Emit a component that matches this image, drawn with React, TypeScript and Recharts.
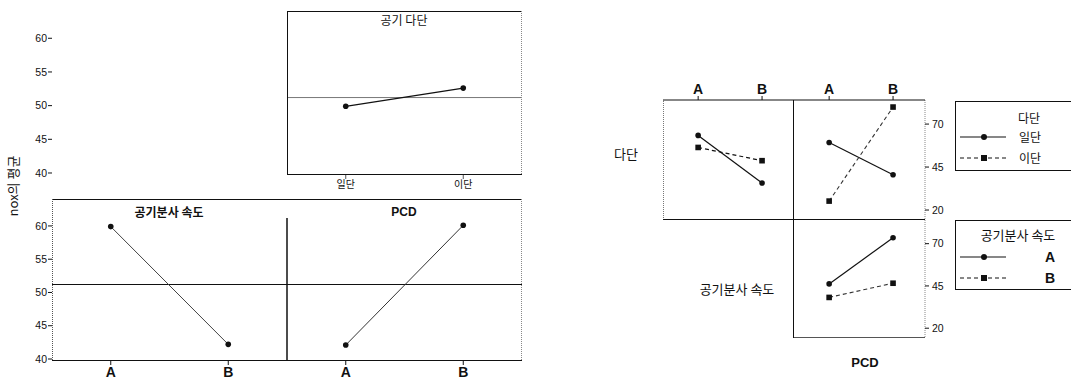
import React from 'react'
import { LineChart, Line, XAxis, YAxis, ReferenceLine } from 'recharts'

// main effects plot: nox의 평균
const dadanLevels = ['일단', '이단']
const abLevels = ['A', 'B']
const dadanMeans = [49.9, 52.6]
const airSpeedMeans = [59.9, 42.2]
const pcdMeans = [42.1, 60.1]
const grandMean = 51.2
const mainTicks = [40, 45, 50, 55, 60]

// interaction plot
const interTicks = [20, 45, 70]
const ilByAir = [63.4, 35.7]
const iByAir = [56.4, 48.7]
const ilByPcd = [59.3, 40.5]
const iByPcd = [25.2, 79.9]
const aByPcd = [46.2, 73.5]
const bByPcd = [38.2, 46.6]

const NUM = '"Liberation Sans", Arial, sans-serif'
const KR = '"Noto Sans CJK KR", "Noto Sans", sans-serif'
const INK = '#111'

const mainPts = (vals: number[], panel: number) =>
  vals.map((y, i) => ({ x: panel + 0.25 + 0.5 * i, y }))
const interPts = (vals: number[]) => vals.map((y, i) => ({ x: i + 1, y }))

const circleDot = (p: any) => (
  <circle key={`c${p.index}`} cx={p.cx} cy={p.cy} r={2.8} fill={INK} />
)
const squareDot = (p: any) => (
  <rect key={`s${p.index}`} x={p.cx - 2.8} y={p.cy - 2.8} width={5.6} height={5.6} fill={INK} />
)

const abs = (left: number, top: number): React.CSSProperties => ({ position: 'absolute', left, top })

function Txt(props: {
  x: number
  y: number
  size?: number
  bold?: boolean
  font?: string
  rotate?: boolean
  children: React.ReactNode
}) {
  const { x, y, size = 12, bold, font = KR, rotate, children } = props
  return (
    <div
      style={{
        position: 'absolute',
        left: x,
        top: y,
        transform: `translate(-50%, -50%)${rotate ? ' rotate(-90deg)' : ''}`,
        fontSize: size,
        fontWeight: bold ? 700 : 400,
        fontFamily: font,
        lineHeight: 1,
        whiteSpace: 'nowrap',
        color: INK,
      }}
    >
      {children}
    </div>
  )
}

function HLine({ x, y, w, c = INK, t = 1, dotted = false }: any) {
  return <div style={{ ...abs(x, y), width: w, height: 0, borderTop: `${t}px ${dotted ? 'dotted' : 'solid'} ${c}` }} />
}
function VLine({ x, y, h, c = INK, t = 1, dotted = false }: any) {
  return <div style={{ ...abs(x, y), width: 0, height: h, borderLeft: `${t}px ${dotted ? 'dotted' : 'solid'} ${c}` }} />
}

function Sample({ dashed, square }: { dashed?: boolean; square?: boolean }) {
  return (
    <svg width={48} height={10} style={{ position: 'absolute', left: 0, top: -5 }}>
      <line x1={0} y1={5} x2={46} y2={5} stroke={INK} strokeWidth={1.2} strokeDasharray={dashed ? '4 3' : undefined} />
      {square ? <rect x={21} y={2} width={6} height={6} fill={INK} /> : <circle cx={24} cy={5} r={3} fill={INK} />}
    </svg>
  )
}

export default function App() {
  const yMain: [number, number] = [39.85, 64.05]
  const yInter: [number, number] = [14.2, 84]
  const numTick = { fontSize: 10.5, fill: INK, fontFamily: NUM }

  return (
    <div
      style={{
        position: 'absolute',
        left: 0,
        top: 0,
        width: 1071,
        height: 387,
        background: '#fff',
        overflow: 'hidden',
        fontFamily: KR,
      }}
    >
      {/* ---------- main effects, top row ---------- */}
      <div style={abs(0, 0)}>
        <LineChart width={522} height={204} margin={{ top: 11, right: 0, bottom: 0, left: 0 }}>
          <YAxis
            width={52}
            domain={yMain}
            ticks={mainTicks}
            interval={0}
            tickSize={4}
            tickMargin={1}
            axisLine={false}
            tickLine={{ stroke: INK }}
            tick={numTick}
          />
          <XAxis
            type="number"
            dataKey="x"
            domain={[0, 2]}
            ticks={dadanLevels.map((_, i) => 1.25 + 0.5 * i)}
            interval={0}
            height={30}
            tickSize={5}
            tickMargin={2}
            axisLine={false}
            tickLine={{ stroke: '#555' }}
            tick={{ fontSize: 10, fill: INK, fontFamily: KR }}
            tickFormatter={(v: number) => dadanLevels[Math.round((v - 1.25) / 0.5)]}
          />
          <ReferenceLine
            segment={[{ x: 1, y: grandMean }, { x: 2, y: grandMean }]}
            stroke="#777"
            strokeWidth={1}
          />
          <Line
            data={mainPts(dadanMeans, 1)}
            dataKey="y"
            stroke={INK}
            strokeWidth={1.2}
            dot={circleDot}
            isAnimationActive={false}
          />
        </LineChart>
      </div>
      <HLine x={287} y={11} w={235} t={1.2} />
      <HLine x={287} y={174} w={235} t={1.2} />
      <VLine x={287} y={11} h={163} t={1.2} />
      <VLine x={521} y={11} h={163} c="#888" dotted />
      <Txt x={404} y={20} size={12}>공기 다단</Txt>

      {/* ---------- main effects, bottom row ---------- */}
      <div style={abs(0, 190)}>
        <LineChart width={522} height={197} margin={{ top: 9, right: 0, bottom: 0, left: 0 }}>
          <YAxis
            width={52}
            domain={yMain}
            ticks={mainTicks}
            interval={0}
            tickSize={4}
            tickMargin={1}
            axisLine={false}
            tickLine={{ stroke: INK }}
            tick={numTick}
          />
          <XAxis
            type="number"
            dataKey="x"
            domain={[0, 2]}
            ticks={[0, 1].flatMap((p) => abLevels.map((_, i) => p + 0.25 + 0.5 * i))}
            interval={0}
            height={27}
            tickSize={5}
            tickMargin={2}
            axisLine={false}
            tickLine={{ stroke: INK }}
            tick={{ fontSize: 14, fill: INK, fontFamily: NUM, fontWeight: 700 }}
            tickFormatter={(v: number) => abLevels[Math.round((v - 0.25) / 0.5) % 2]}
          />
          <ReferenceLine y={grandMean} stroke={INK} strokeWidth={1.2} />
          <ReferenceLine
            segment={[{ x: 1, y: 61.2 }, { x: 1, y: yMain[0] }]}
            stroke={INK}
            strokeWidth={1.5}
          />
          <Line
            data={mainPts(airSpeedMeans, 0)}
            dataKey="y"
            stroke="#444"
            strokeWidth={1}
            dot={circleDot}
            isAnimationActive={false}
          />
          <Line
            data={mainPts(pcdMeans, 1)}
            dataKey="y"
            stroke="#333"
            strokeWidth={1}
            dot={circleDot}
            isAnimationActive={false}
          />
        </LineChart>
      </div>
      <HLine x={52} y={199} w={470} t={1.2} />
      <HLine x={52} y={360} w={470} t={1.2} />
      <VLine x={52} y={199} h={161} c="#555" dotted />
      <VLine x={521} y={199} h={161} c="#888" dotted />
      <Txt x={169} y={212} size={12} bold>공기분사 속도</Txt>
      <Txt x={404} y={212} size={12} bold font={NUM}>PCD</Txt>
      <Txt x={12} y={186} size={13} rotate>nox의 평균</Txt>

      {/* ---------- interaction: 공기분사 속도 x 다단 ---------- */}
      <div style={abs(663, 78)}>
        <LineChart width={131} height={142} margin={{ top: 0, right: 0, bottom: 0, left: 0 }}>
          <YAxis hide domain={yInter} />
          <XAxis
            type="number"
            dataKey="x"
            orientation="top"
            domain={[0.45, 2.5]}
            ticks={[1, 2]}
            interval={0}
            height={22}
            tickSize={4}
            tickMargin={2}
            axisLine={{ stroke: INK, strokeWidth: 1.2 }}
            tickLine={{ stroke: INK }}
            tick={{ fontSize: 14, fill: INK, fontFamily: NUM, fontWeight: 700 }}
            tickFormatter={(v: number) => abLevels[v - 1]}
          />
          <Line data={interPts(ilByAir)} dataKey="y" stroke={INK} strokeWidth={1.2} dot={circleDot} isAnimationActive={false} />
          <Line data={interPts(iByAir)} dataKey="y" stroke={INK} strokeWidth={1.2} strokeDasharray="4 3" dot={squareDot} isAnimationActive={false} />
        </LineChart>
      </div>

      {/* ---------- interaction: PCD x 다단 ---------- */}
      <div style={abs(794, 78)}>
        <LineChart width={161} height={142} margin={{ top: 0, right: 0, bottom: 0, left: 0 }}>
          <YAxis
            orientation="right"
            width={30}
            domain={yInter}
            ticks={interTicks}
            interval={0}
            tickSize={4}
            tickMargin={3}
            axisLine={{ stroke: '#888', strokeDasharray: '1 1' }}
            tickLine={{ stroke: INK }}
            tick={numTick}
          />
          <XAxis
            type="number"
            dataKey="x"
            orientation="top"
            domain={[0.45, 2.5]}
            ticks={[1, 2]}
            interval={0}
            height={22}
            tickSize={4}
            tickMargin={2}
            axisLine={{ stroke: INK, strokeWidth: 1.2 }}
            tickLine={{ stroke: INK }}
            tick={{ fontSize: 14, fill: INK, fontFamily: NUM, fontWeight: 700 }}
            tickFormatter={(v: number) => abLevels[v - 1]}
          />
          <Line data={interPts(ilByPcd)} dataKey="y" stroke={INK} strokeWidth={1.2} dot={circleDot} isAnimationActive={false} />
          <Line data={interPts(iByPcd)} dataKey="y" stroke="#333" strokeWidth={1.1} strokeDasharray="4 3" dot={squareDot} isAnimationActive={false} />
        </LineChart>
      </div>

      {/* ---------- interaction: PCD x 공기분사 속도 ---------- */}
      <div style={abs(794, 220)}>
        <LineChart width={161} height={118} margin={{ top: 0, right: 0, bottom: 0, left: 0 }}>
          <XAxis type="number" dataKey="x" hide domain={[0.45, 2.5]} />
          <YAxis
            orientation="right"
            width={30}
            domain={yInter}
            ticks={interTicks}
            interval={0}
            tickSize={4}
            tickMargin={3}
            axisLine={{ stroke: '#888', strokeDasharray: '1 1' }}
            tickLine={{ stroke: INK }}
            tick={numTick}
          />
          <Line data={interPts(aByPcd)} dataKey="y" stroke={INK} strokeWidth={1.2} dot={circleDot} isAnimationActive={false} />
          <Line data={interPts(bByPcd)} dataKey="y" stroke="#333" strokeWidth={1.1} strokeDasharray="4 3" dot={squareDot} isAnimationActive={false} />
        </LineChart>
      </div>

      {/* interaction frame */}
      <VLine x={663} y={100} h={120} c="#777" dotted />
      <HLine x={663} y={219} w={262} t={1.5} />
      <VLine x={793} y={100} h={238} t={1.5} />
      <HLine x={794} y={337} w={131} c="#555" />
      <Txt x={626} y={153} size={13}>다단</Txt>
      <Txt x={737} y={288} size={13}>공기분사 속도</Txt>
      <Txt x={865} y={362} size={13} bold font={NUM}>PCD</Txt>

      {/* legend: 다단 */}
      <div style={{ ...abs(955, 101), width: 140, height: 70, border: `1.5px solid ${INK}`, boxSizing: 'border-box' }} />
      <Txt x={1029} y={118} size={12}>다단</Txt>
      <div style={abs(960, 137)}><Sample /></div>
      <Txt x={1030} y={137} size={12}>일단</Txt>
      <div style={abs(960, 158)}><Sample dashed square /></div>
      <Txt x={1030} y={158} size={12}>이단</Txt>

      {/* legend: 공기분사 속도 */}
      <div style={{ ...abs(955, 220), width: 140, height: 70, border: `1.5px solid ${INK}`, boxSizing: 'border-box' }} />
      <Txt x={1018} y={234} size={13}>공기분사 속도</Txt>
      <div style={abs(960, 257)}><Sample /></div>
      <Txt x={1050} y={257} size={14} bold font={NUM}>A</Txt>
      <div style={abs(960, 278)}><Sample dashed square /></div>
      <Txt x={1050} y={278} size={14} bold font={NUM}>B</Txt>
    </div>
  )
}
